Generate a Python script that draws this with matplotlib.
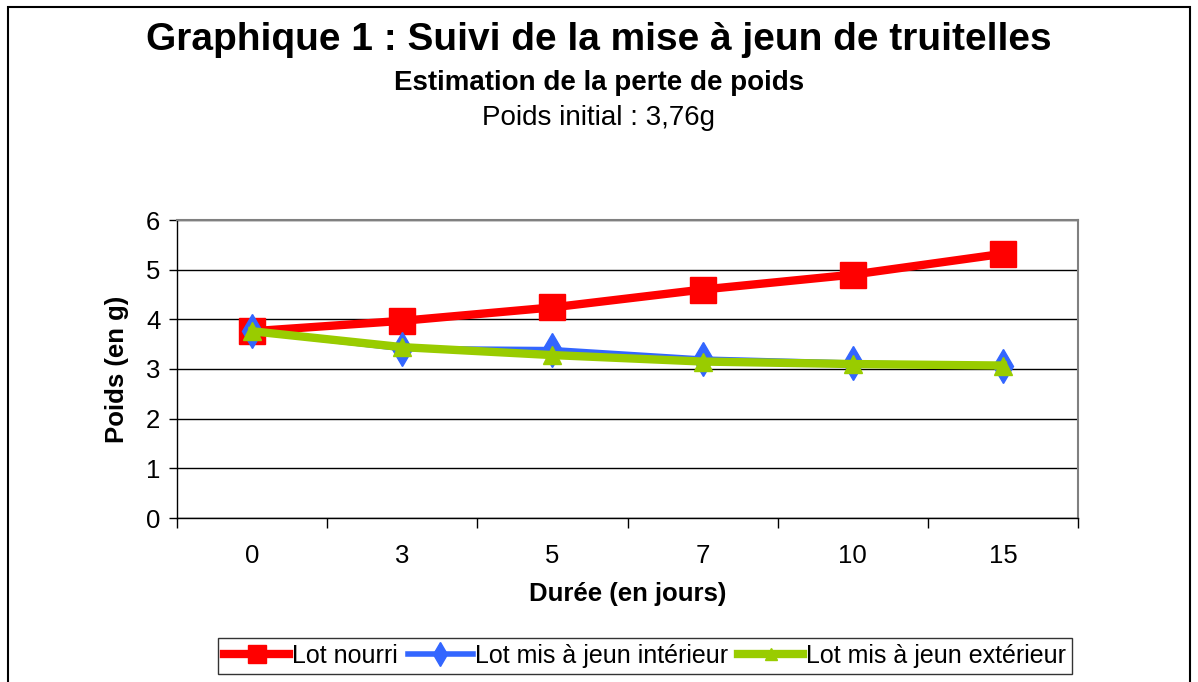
import numpy as np
import matplotlib
matplotlib.use('Agg')
import matplotlib.pyplot as plt
from matplotlib.patches import Rectangle

plt.rcParams['font.family'] = ['Liberation Sans', 'DejaVu Sans']

## data
jours = ['0', '3', '5', '7', '10', '15']
lot_nourri = [3.76, 3.97, 4.24, 4.60, 4.90, 5.32]
jeun_interieur = [3.76, 3.41, 3.39, 3.20, 3.12, 3.07]
jeun_exterieur = [3.76, 3.44, 3.28, 3.15, 3.10, 3.07]

x = np.arange(len(jours))

fig = plt.figure(figsize=(11.98, 6.82), dpi=100)
ax = fig.add_axes([177/1198, 1 - 518/682, (1078-177)/1198, (518-220)/682])

## outer frame of the chart
fig.patches.append(Rectangle((8/1198, -0.05), (1190-8)/1198, 1 - 7/682 + 0.05,
                             transform=fig.transFigure, fill=False,
                             edgecolor='black', linewidth=1.5))

ax.plot(x, lot_nourri, color='#ff0000', linewidth=6, marker='s',
        markersize=19, label='Lot nourri', zorder=3)
ax.plot(x, jeun_interieur, color='#3366ff', linewidth=4, marker='d',
        markersize=17, label='Lot mis à jeun intérieur', zorder=4)
ax.plot(x, jeun_exterieur, color='#99cc00', linewidth=6, marker='^',
        markersize=13, label='Lot mis à jeun extérieur', zorder=5)

ax.set_xlim(-0.5, 5.5)
ax.set_ylim(0, 6)
ax.set_yticks(np.arange(0, 7))
ax.set_xticks(x)
ax.set_xticklabels(jours)
ax.set_xticks(np.arange(-0.5, 6, 1), minor=True)
ax.tick_params(axis='x', which='major', length=0, pad=19, labelsize=18.5)
ax.tick_params(axis='x', which='minor', length=7, width=1, direction='out')
ax.tick_params(axis='y', length=6, width=1, direction='out', labelsize=18.5, pad=6)
ax.yaxis.grid(True, color='black', linewidth=1)
ax.set_axisbelow(True)

for s in ['top', 'right']:
    ax.spines[s].set_color('#808080')
    ax.spines[s].set_linewidth(1.5)
for s in ['left', 'bottom']:
    ax.spines[s].set_color('black')
    ax.spines[s].set_linewidth(1)

ax.set_xlabel('Durée (en jours)', fontsize=18.5, fontweight='bold', labelpad=10)
ax.set_ylabel('Poids (en g)', fontsize=18.5, fontweight='bold', labelpad=12)

fig.text(0.5, 1 - 40/682, 'Graphique 1 : Suivi de la mise à jeun de truitelles',
         ha='center', va='center', fontsize=28, fontweight='bold')
fig.text(0.5, 1 - 83/682, 'Estimation de la perte de poids',
         ha='center', va='center', fontsize=20, fontweight='bold')
fig.text(0.5, 1 - 118/682, 'Poids initial : 3,76g',
         ha='center', va='center', fontsize=20)

leg = fig.legend(loc='center', bbox_to_anchor=(645/1198, 1 - 656/682), ncol=3,
                 fontsize=18, frameon=True, fancybox=False, edgecolor='black',
                 handlelength=2.6, handletextpad=0.1, columnspacing=0.4,
                 borderpad=0.25, markerscale=0.7)
leg.get_frame().set_linewidth(1)

fig.savefig('out.png', dpi=100)
